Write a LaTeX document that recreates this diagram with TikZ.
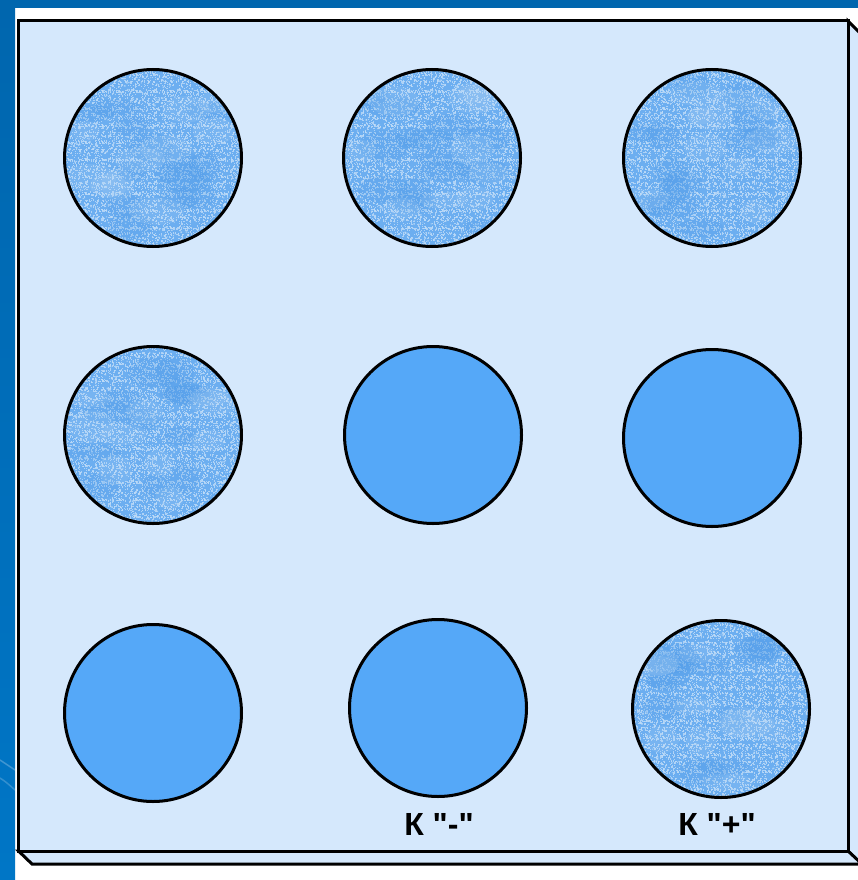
\documentclass[tikz,border=0pt]{standalone}
\usepackage{fontspec}
\usetikzlibrary{patterns}
\newfontfamily\lab{Liberation Sans}
\definecolor{frameblue}{HTML}{0066AE}
\definecolor{framebluelow}{HTML}{0076C6}
\definecolor{panel}{HTML}{D5E8FC}
\definecolor{solidblue}{HTML}{55A8F8}
\definecolor{texbase}{HTML}{6CAEF0}
\definecolor{texdark}{HTML}{4D9BE8}
\definecolor{texlight}{HTML}{BFDCF8}
\pgfmathsetseed{99}
\pgfdeclarepatternformonly{speckA}{\pgfpoint{-1pt}{-1pt}}{\pgfpoint{19pt}{19pt}}{\pgfpoint{17pt}{17pt}}{%
  \foreach \k in {1,...,38}{%
    \pgfmathsetmacro\px{rnd*17}\pgfmathsetmacro\py{rnd*17}%
    \pgfmathsetmacro\pw{0.8+0.9*rnd}\pgfmathsetmacro\ph{0.8+0.9*rnd}%
    \pgfpathrectangle{\pgfpoint{\px pt}{\py pt}}{\pgfpoint{\pw pt}{\ph pt}}%
    \pgfusepath{fill}}}
\pgfdeclarepatternformonly{speckB}{\pgfpoint{-1pt}{-1pt}}{\pgfpoint{25pt}{25pt}}{\pgfpoint{23pt}{23pt}}{%
  \foreach \k in {1,...,60}{%
    \pgfmathsetmacro\px{rnd*23}\pgfmathsetmacro\py{rnd*23}%
    \pgfmathsetmacro\pw{0.7+1.0*rnd}\pgfmathsetmacro\ph{0.7+1.0*rnd}%
    \pgfpathrectangle{\pgfpoint{\px pt}{\py pt}}{\pgfpoint{\pw pt}{\ph pt}}%
    \pgfusepath{fill}}}
\tikzset{
  hole/.style={circle, draw=black, line width=3pt, minimum size=177pt, inner sep=0pt},
  solidhole/.style={hole, fill=solidblue},
  texhole/.style={hole, fill=texbase, path picture={
     \fill[pattern=speckA, pattern color=texlight, opacity=0.8]
        (path picture bounding box.south west) rectangle (path picture bounding box.north east);
     \fill[pattern=speckB, pattern color=texlight, opacity=0.8]
        (path picture bounding box.south west) rectangle (path picture bounding box.north east);
     \fill[texlight, opacity=0.75] \foreach \i in {1,...,600}{
        (path picture bounding box.center) ++({rand*90},{rand*90}) rectangle ++({0.8+1.0*rnd},{0.8+1.0*rnd}) };
     \foreach \i in {1,...,14}{
        \fill[texdark, opacity=0.22] (path picture bounding box.center) ++({rand*75},{rand*75}) ellipse ({14pt+14pt*rnd} and {8pt+8pt*rnd}); }
     \foreach \i in {1,...,10}{
        \fill[texlight, opacity=0.14] (path picture bounding box.center) ++({rand*75},{rand*75}) ellipse ({14pt+14pt*rnd} and {8pt+8pt*rnd}); }
  }},
  edge face/.style={fill=panel, draw=black, line width=3pt, line join=miter},
  label text/.style={font=\lab\bfseries\fontsize{32}{34}\selectfont, text=black, inner sep=0pt},
}
\begin{document}
\begin{tikzpicture}[x=1pt,y=-1pt]
\pgfmathsetseed{4711}
\useasboundingbox (0,0) rectangle (858,880);
\clip (0,0) rectangle (858,880);
% slide background
\fill[white] (0,0) rectangle (858,880);
\shade[top color=frameblue, bottom color=framebluelow] (0,0) rectangle (15,880);
\fill[frameblue] (0,0) rectangle (858,8);
\draw[white, opacity=0.25, line width=1.5pt] (0,760) .. controls (6,764) .. (15,770);
\draw[white, opacity=0.2, line width=1.5pt] (0,778) .. controls (6,782) .. (15,790);
% 3D edges of the plate
\path[edge face] (848,851) -- (848,21) -- (862,35) -- (862,865) -- cycle;
\path[edge face] (18.5,851) -- (32,864) -- (862,864) -- (848,851) -- cycle;
% front face of the plate
\path[fill=panel, draw=black, line width=3pt] (18.5,21) rectangle (848,851);
% holes
\node[texhole] (h11) at (153,158) {};
\node[texhole] (h12) at (432,158) {};
\node[texhole] (h13) at (712,158) {};
\node[texhole] (h21) at (153,435) {};
\node[solidhole] (h22) at (433,435) {};
\node[solidhole] (h23) at (712,438) {};
\node[solidhole] (h31) at (153,713) {};
\node[solidhole] (h32) at (438,708) {};
\node[texhole] (h33) at (721,709) {};
% labels
\node[label text] (lminus) at (439,824) {К "-"};
\node[label text] (lplus) at (717,824) {К "+"};
\end{tikzpicture}
\end{document}
